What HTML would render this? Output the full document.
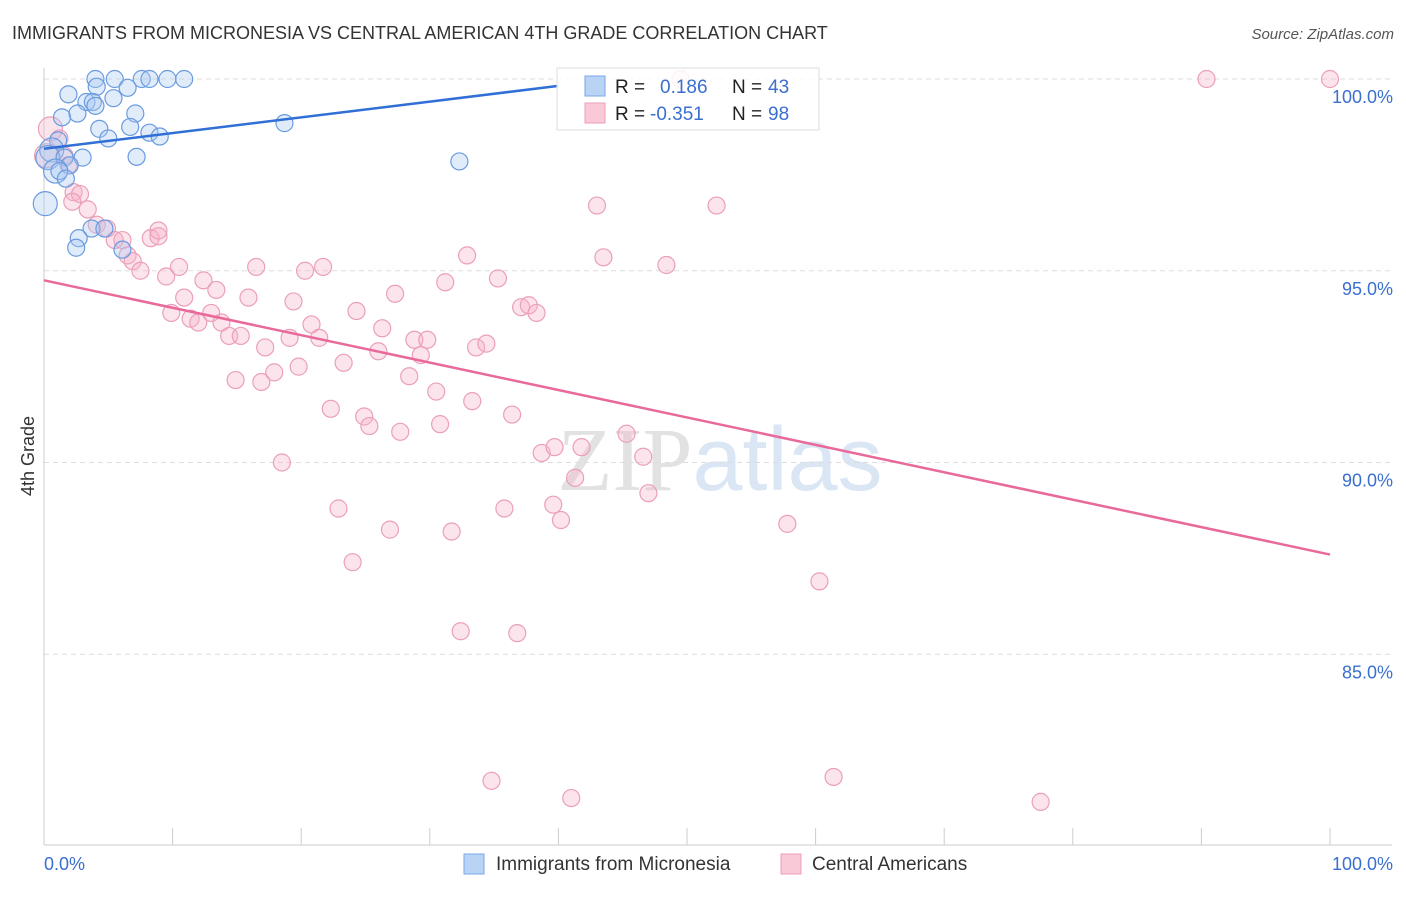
<!DOCTYPE html>
<html><head><meta charset="utf-8"><style>
body{margin:0;background:#fff;font-family:"Liberation Sans",sans-serif}
svg text{font-family:"Liberation Sans",sans-serif}
</style></head><body>
<svg id="chart" width="1406" height="892" viewBox="0 0 1406 892" xmlns="http://www.w3.org/2000/svg">
<text x="12" y="39" font-size="18" fill="#333">IMMIGRANTS FROM MICRONESIA VS CENTRAL AMERICAN 4TH GRADE CORRELATION CHART</text>
<text x="1394" y="39" font-size="15" fill="#555" text-anchor="end" font-style="italic">Source: ZipAtlas.com</text>
<text x="720" y="490" font-size="90" text-anchor="middle" fill="#e8e8ee"><tspan font-family="Liberation Serif" fill="#e2e2e2">ZIP</tspan><tspan fill="#dbe6f5">atlas</tspan></text>
<g id="grid"></g>
<g id="axes"></g>
<g id="marks"></g>
<g>
<rect x="557" y="68" width="262" height="62" fill="#fff" fill-opacity="0.85" stroke="#ddd"/>
<rect x="585" y="76" width="20" height="20" fill="#b9d3f5" stroke="#7aa6e6"/>
<rect x="585" y="103" width="20" height="20" fill="#f9c9d8" stroke="#ee9fb8"/>
<text x="615" y="93" font-size="19" fill="#222">R = </text><text x="660" y="93" font-size="19" fill="#3a6fd0">0.186</text>
<text x="732" y="93" font-size="19" fill="#222">N = </text><text x="768" y="93" font-size="19" fill="#3a6fd0">43</text>
<text x="615" y="120" font-size="19" fill="#222">R = </text><text x="650" y="120" font-size="19" fill="#3a6fd0">-0.351</text>
<text x="732" y="120" font-size="19" fill="#222">N = </text><text x="768" y="120" font-size="19" fill="#3a6fd0">98</text>
</g>
<text transform="translate(34,456) rotate(-90)" font-size="18" fill="#333" text-anchor="middle">4th Grade</text>
<g>
<rect x="464" y="854" width="20" height="20" fill="#b9d3f5" stroke="#7aa6e6"/>
<text x="496" y="870" font-size="19" fill="#333">Immigrants from Micronesia</text>
<rect x="781" y="854" width="20" height="20" fill="#f9c9d8" stroke="#ee9fb8"/>
<text x="812" y="870" font-size="19" fill="#333">Central Americans</text>
</g>
</svg>
<script>
const yTicks=[100,95,90,85];
const yTickLabels=["100.0%","95.0%","90.0%","85.0%"];
const xTickLabels=["0.0%","100.0%"];
const blueX=[4.0,5.5,7.6,8.2,9.6,10.9,4.1,6.5,1.9,3.3,3.8,4.0,5.4,2.6,1.4,7.1,4.3,6.7,8.2,9.0,5.0,18.7,1.1,0.6,0.3,1.6,3.0,7.2,32.3,2.0,0.9,1.2,1.7,0.1,3.7,4.7,2.7,2.5,6.1];
const blueY=[100,100,100,100,100,100,99.8,99.77,99.6,99.4,99.4,99.3,99.5,99.1,99.0,99.1,98.7,98.75,98.6,98.5,98.45,98.85,98.4,98.15,97.95,97.95,97.95,97.97,97.85,97.75,97.6,97.6,97.4,96.75,96.1,96.1,95.85,95.6,95.55];
const pinkX=[90.4,100,49.5,0.5,1.2,0.2,1.6,1.9,2.3,2.8,2.2,3.4,4.1,4.9,5.5,6.1,6.5,6.9,7.5,8.3,8.9,8.9,9.5,10.5,10.9,9.9,11.4,12.0,12.4,13.0,13.4,13.8,14.4,15.3,15.9,16.5,14.9,16.9,17.2,17.9,19.1,19.4,19.8,20.3,20.8,21.4,21.7,18.5,22.3,22.9,23.3,24.0,24.3,24.9,25.3,26.0,26.3,26.9,27.3,27.7,28.4,28.8,29.3,29.8,30.5,30.8,31.2,31.7,32.4,32.9,33.3,33.6,34.4,34.8,35.3,35.8,36.4,36.8,37.1,37.7,38.3,38.7,39.6,39.7,40.2,41.0,41.3,41.8,43.0,43.5,45.3,46.6,47.0,48.4,52.3,57.8,60.3,61.4,77.5];
const pinkY=[100,100,100,98.7,98.45,98.0,98.0,97.75,97.05,97.0,96.8,96.6,96.2,96.1,95.8,95.8,95.4,95.25,95.0,95.85,95.9,96.05,94.85,95.1,94.3,93.9,93.75,93.65,94.75,93.9,94.5,93.65,93.3,93.3,94.3,95.1,92.15,92.1,93.0,92.35,93.25,94.2,92.5,95.0,93.6,93.25,95.1,90.0,91.4,88.8,92.6,87.4,93.95,91.2,90.95,92.9,93.5,88.25,94.4,90.8,92.25,93.2,92.8,93.2,91.85,91.0,94.7,88.2,85.6,95.4,91.6,93.0,93.1,81.7,94.8,88.8,91.25,85.55,94.05,94.1,93.9,90.25,88.9,90.4,88.5,81.25,89.6,90.4,96.7,95.35,90.75,90.15,89.2,95.15,96.7,88.4,86.9,81.8,81.15];
const blueTrend=[[0,98.18],[40,99.82]];
const pinkTrend=[[0,94.75],[100,87.6]];
const NS="http://www.w3.org/2000/svg";
const sx=v=>44+v*12.86;
const sy=v=>79+(100-v)*38.35;
function mk(tag,attrs,parent){const e=document.createElementNS(NS,tag);for(const k in attrs)e.setAttribute(k,attrs[k]);parent.appendChild(e);return e;}
const grid=document.getElementById('grid'),axes=document.getElementById('axes'),marks=document.getElementById('marks');
yTicks.forEach((t,i)=>{
 const l=mk('line',{x1:44,x2:1392,y1:sy(t),y2:sy(t),stroke:'#ddd','stroke-dasharray':'5,4'},grid);
 
 
 const tx=mk('text',{x:1393,y:sy(t)+24,'font-size':18,fill:'#3a6fd0','text-anchor':'end'},axes);
 tx.textContent=yTickLabels[i];
 
 
});
const ya=mk('line',{x1:44,x2:44,y1:68,y2:845,stroke:'#ccc'},axes);


const xa=mk('line',{x1:44,x2:1392,y1:845,y2:845,stroke:'#ccc'},axes);


for(let i=0;i<=10;i++){const t=mk('line',{x1:sx(i*10),x2:sx(i*10),y1:828,y2:845,stroke:'#ccc'},axes);
 
 }
[[0,44,'start'],[100,1393,'end']].forEach((d,i)=>{const t=mk('text',{x:d[1],y:870,'font-size':18,fill:'#3a6fd0','text-anchor':d[2]},axes);t.textContent=xTickLabels[i];
 
 });
function pts(X,Y,fill,stroke,name){X.forEach((x,i)=>{const r=(x<1&&Y[i]>96.5&&Y[i]<99)?12:8.5;const c=mk('circle',{cx:sx(x),cy:sy(Y[i]),r:r,fill:fill,'fill-opacity':0.35,stroke:stroke,'stroke-width':1.2},marks);
 
 });}
pts(pinkX,pinkY,'#f5b3c8','#eb9fb9','central-american-point');
pts(blueX,blueY,'#a9c8f0','#6a9be0','micronesia-point');
const bl=mk('line',{x1:sx(blueTrend[0][0]),y1:sy(blueTrend[0][1]),x2:sx(blueTrend[1][0]),y2:sy(blueTrend[1][1]),stroke:'#2f6fd6','stroke-width':2.5},marks);


const pl=mk('line',{x1:sx(pinkTrend[0][0]),y1:sy(pinkTrend[0][1]),x2:sx(pinkTrend[1][0]),y2:sy(pinkTrend[1][1]),stroke:'#e8699a','stroke-width':2.5},marks);


</script>
</body></html>
